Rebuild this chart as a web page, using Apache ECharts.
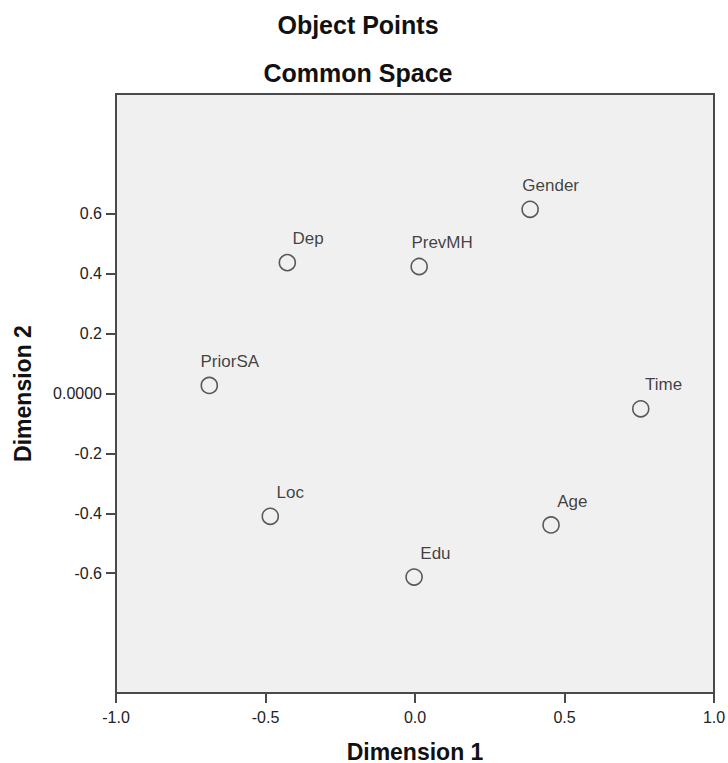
<!DOCTYPE html>
<html>
<head>
<meta charset="utf-8">
<script src="https://cdn.jsdelivr.net/npm/echarts@6/dist/echarts.min.js"></script>
<style>
html,body{margin:0;padding:0;background:#fff;}
#chart{width:728px;height:763px;}
</style>
</head>
<body>
<div id="chart"></div>
<script>
// ---- data ----
const pointNames = ['Gender', 'Dep', 'PrevMH', 'PriorSA', 'Time', 'Loc', 'Age', 'Edu'];
const dimension1 = [0.385, -0.427, 0.014, -0.688, 0.755, -0.484, 0.455, -0.003];
const dimension2 = [0.615, 0.437, 0.424, 0.027, -0.051, -0.410, -0.439, -0.613];
const xTickValues = [-1.0, -0.5, 0.0, 0.5, 1.0];
const yTickValues = [-0.6, -0.4, -0.2, 0.0, 0.2, 0.4, 0.6];
const titleText = 'Object Points';
const subtitleText = 'Common Space';
const xAxisName = 'Dimension 1';
const yAxisName = 'Dimension 2';

// ---- style (label nudges, not data) ----
const labelNudge = {Gender: -7, Dep: 6, PrevMH: -7, PriorSA: -8, Time: 5, Loc: 7, Age: 7, Edu: 7};
const FONT = "'Liberation Sans', Arial, Helvetica, sans-serif";
const SYM = 16;

const seriesData = pointNames.map((n, i) => ({
  name: n,
  value: [dimension1[i], dimension2[i]],
  label: {
    show: true,
    formatter: n,
    position: [SYM / 2 + labelNudge[n], SYM / 2 - 23],
    align: 'left',
    verticalAlign: 'middle'
  }
}));

const chart = echarts.init(document.getElementById('chart'), null, {renderer: 'svg'});
chart.setOption({
  animation: false,
  backgroundColor: '#ffffff',
  title: [
    {text: titleText, left: 358, top: 12, textAlign: 'center', padding: 0,
     textStyle: {fontFamily: FONT, fontSize: 25, fontWeight: 'bold', color: '#111'}},
    {text: subtitleText, left: 358, top: 60, textAlign: 'center', padding: 0,
     textStyle: {fontFamily: FONT, fontSize: 25, fontWeight: 'bold', color: '#111'}}
  ],
  grid: {
    left: 116, top: 94, right: 14, bottom: 70,
    show: true, backgroundColor: '#f0f0f0', borderColor: '#4a4a4a', borderWidth: 2,
    containLabel: false,
    outerBoundsMode: 'none'
  },
  xAxis: {
    type: 'value', min: -1, max: 1, interval: 0.5,
    name: xAxisName, nameLocation: 'middle', nameGap: 47,
    nameTextStyle: {fontFamily: FONT, fontSize: 23, lineHeight: 23, fontWeight: 'bold', color: '#111'},
    axisLine: {show: true, onZero: false, lineStyle: {color: '#4a4a4a', width: 2}},
    axisTick: {show: true, inside: false, length: 10, lineStyle: {color: '#4a4a4a', width: 2}, customValues: xTickValues},
    axisLabel: {show: true, margin: 16, fontFamily: FONT, fontSize: 16, color: '#222',
      customValues: xTickValues, formatter: v => Number(v).toFixed(1)},
    splitLine: {show: false}
  },
  yAxis: {
    type: 'value', min: -1, max: 1, interval: 0.2,
    name: yAxisName, nameLocation: 'middle', nameGap: 82,
    nameTextStyle: {fontFamily: FONT, fontSize: 23, fontWeight: 'bold', color: '#111'},
    axisLine: {show: true, onZero: false, lineStyle: {color: '#4a4a4a', width: 2}},
    axisTick: {show: true, inside: false, length: 10, lineStyle: {color: '#4a4a4a', width: 2}, customValues: yTickValues},
    axisLabel: {show: true, margin: 14, fontFamily: FONT, fontSize: 16, color: '#222',
      customValues: yTickValues,
      formatter: v => (Math.abs(v) < 1e-9 ? '0.0000' : Number(v).toFixed(1))},
    splitLine: {show: false}
  },
  series: [{
    type: 'scatter',
    symbol: 'circle',
    symbolSize: SYM,
    itemStyle: {color: 'rgba(0,0,0,0)', borderColor: '#333', borderWidth: 1.6},
    label: {fontFamily: FONT, fontSize: 17, color: '#111'},
    emphasis: {disabled: true},
    data: seriesData
  }]
});
</script>
</body>
</html>
